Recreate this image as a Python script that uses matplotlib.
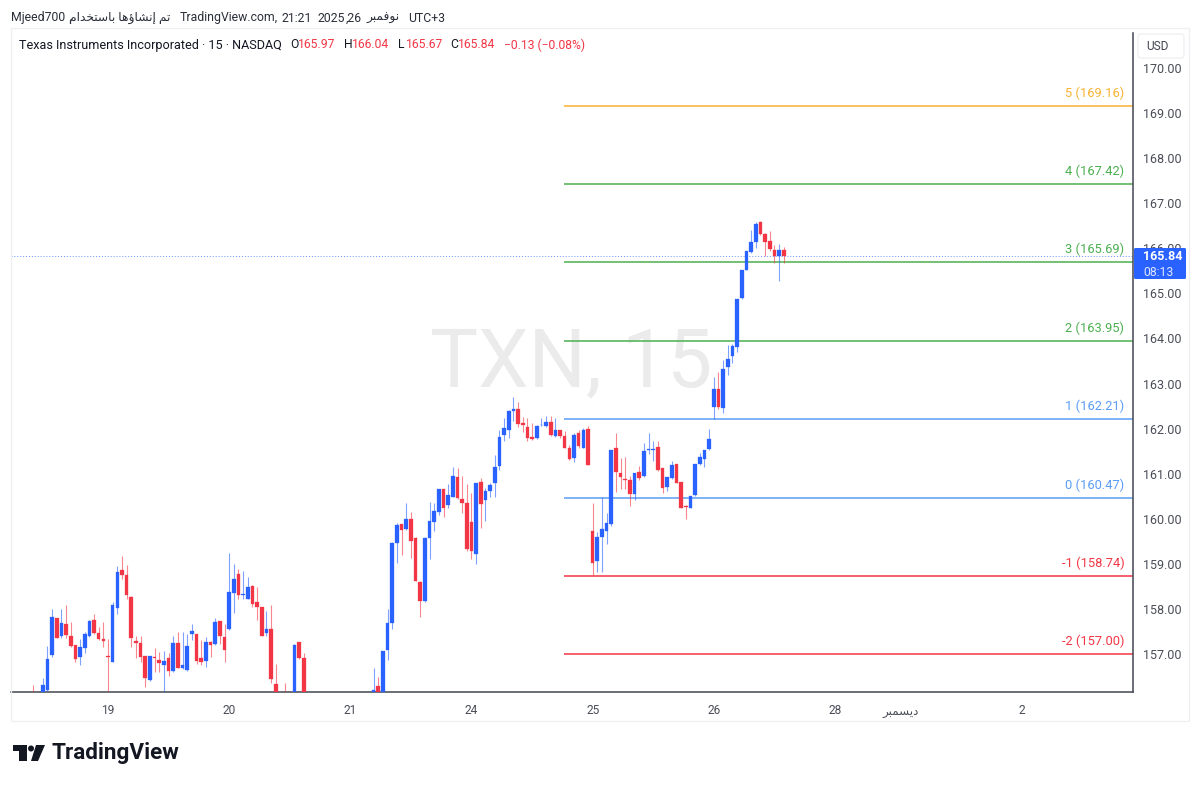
import unicodedata
import matplotlib
matplotlib.use("Agg")
import matplotlib.pyplot as plt
from matplotlib.patches import FancyBboxPatch, Rectangle, Polygon, Circle

plt.rcParams['font.family'] = ['Roboto', 'DejaVu Sans']

# bars counted from the first session of the 19th, hidden ones are under the axis
bar_index = [-16] + list(range(-14, 37)) + [38, 40, 41, 42] + list(range(57, 146))

opens = [
    156.10, 156.00, 156.20, 156.97, 157.80, 157.39, 157.66, 157.41, 157.20, 156.94, 157.14, 157.39, 157.76, 157.47,
    157.34, 156.95, 156.83, 158.03, 158.86, 158.75, 158.27, 157.28, 157.25, 156.95, 156.42, 156.94, 156.87, 156.76,
    156.91, 156.62, 157.25, 156.68, 156.65, 157.44, 157.45, 156.91, 156.85, 157.27, 157.22, 157.73, 157.38, 157.56,
    158.35, 158.77, 158.30, 158.22, 158.52, 158.15, 158.05, 157.47, 157.55, 156.33,
    156.10, 155.95, 157.26, 156.91,
    156.00, 156.28, 155.95, 157.09, 157.68, 159.46, 159.88, 159.77, 160.00, 159.57, 158.60, 158.17, 159.57, 159.94,
    160.14, 160.65, 160.30, 160.49, 160.92, 160.45, 160.35, 159.92, 159.23, 160.82, 160.41, 160.62, 160.80, 161.17,
    161.85, 161.98, 162.40, 162.44, 162.12, 162.04, 161.81, 161.79, 162.07, 162.06, 162.15, 161.84, 161.97, 161.84,
    161.58, 161.35, 161.90, 161.57, 161.99,
    159.74, 159.07, 159.60, 159.72, 159.89, 161.56, 161.02, 160.88, 160.86, 160.54, 161.03, 160.95, 161.53, 161.53,
    161.59, 161.12, 160.70, 160.90, 161.22, 160.81, 160.28, 160.25, 160.53, 161.22, 161.33, 161.55,
    162.47, 162.89, 162.45, 163.36, 163.62, 163.80, 164.89, 165.53, 165.91, 166.15, 166.58, 166.31, 166.16, 165.96,
    165.84, 165.97,
]
closes = [
    156.00, 156.31, 156.89, 157.83, 157.36, 157.69, 157.42, 157.17, 156.88, 157.15, 157.44, 157.74, 157.46, 157.33,
    157.30, 156.93, 158.09, 158.81, 158.75, 158.31, 157.35, 157.24, 156.94, 156.46, 156.95, 156.92, 156.81, 156.85,
    156.63, 157.25, 156.70, 156.75, 157.18, 157.51, 156.85, 156.82, 157.27, 157.20, 157.70, 157.40, 157.08, 158.38,
    158.66, 158.31, 158.33, 158.48, 158.11, 158.04, 157.41, 157.56, 156.45, 156.00,
    156.00, 157.20, 156.91, 155.95,
    156.20, 156.00, 157.07, 157.68, 159.46, 159.86, 159.75, 159.99, 159.51, 158.61, 158.17, 159.57, 159.95, 160.17,
    160.66, 160.25, 160.52, 160.94, 160.47, 160.36, 159.34, 159.28, 160.80, 160.33, 160.62, 160.75, 161.14, 161.82,
    162.01, 162.40, 162.43, 162.10, 162.07, 161.79, 161.76, 162.06, 162.09, 162.15, 161.85, 161.97, 161.84, 161.58,
    161.33, 161.85, 161.61, 161.98, 161.19,
    159.03, 159.60, 159.77, 159.91, 161.53, 161.03, 160.92, 160.86, 160.55, 161.02, 160.90, 161.50, 161.55, 161.55,
    161.08, 160.68, 160.92, 161.19, 160.80, 160.23, 160.27, 160.51, 161.21, 161.36, 161.53, 161.76,
    162.89, 162.47, 163.32, 163.54, 163.84, 164.87, 165.53, 165.93, 166.13, 166.55, 166.31, 166.14, 165.98, 165.84,
    165.96, 165.84,
]
highs = [
    156.31, 156.46, 157.18, 157.99, 157.80, 157.99, 158.09, 157.72, 157.20, 157.33, 157.50, 157.76, 157.89, 157.59,
    157.72, 157.33, 158.16, 158.95, 159.18, 158.98, 158.29, 157.40, 157.40, 156.96, 156.96, 157.14, 157.05, 157.07,
    157.02, 157.39, 157.50, 157.50, 157.44, 157.66, 157.45, 157.31, 157.37, 157.28, 157.79, 157.73, 157.67, 159.25,
    159.00, 158.88, 158.85, 158.72, 158.53, 158.48, 158.05, 157.96, 158.09, 156.79,
    156.35, 157.22, 157.27, 157.03,
    156.68, 156.48, 157.07, 157.99, 159.49, 159.91, 159.88, 160.36, 160.14, 159.60, 158.61, 159.60, 160.38, 160.34,
    160.66, 160.66, 160.77, 161.14, 161.12, 160.95, 160.77, 160.57, 160.80, 160.90, 160.68, 160.79, 161.41, 161.97,
    162.23, 162.41, 162.71, 162.58, 162.25, 162.23, 162.12, 162.08, 162.23, 162.28, 162.28, 162.23, 161.98, 161.95,
    161.64, 161.90, 161.98, 162.01, 162.06,
    160.36, 159.70, 160.49, 160.12, 161.53, 161.91, 161.34, 161.38, 160.95, 161.02, 161.17, 161.69, 161.90, 161.73,
    161.73, 161.12, 160.92, 161.28, 161.22, 160.81, 160.31, 160.51, 161.21, 161.47, 161.53, 161.99,
    163.14, 163.25, 163.52, 163.86, 163.87, 164.87, 165.53, 165.93, 166.41, 166.59, 166.61, 166.33, 166.39, 166.07,
    166.09, 166.04,
]
lows = [
    155.90, 155.90, 156.17, 156.94, 157.35, 157.35, 157.35, 157.15, 156.83, 156.75, 157.02, 157.37, 157.45, 157.32,
    157.16, 156.00, 156.82, 157.89, 158.66, 158.21, 157.16, 156.91, 156.83, 156.26, 156.41, 156.61, 156.61, 156.00,
    156.51, 156.61, 156.68, 156.66, 156.63, 157.31, 156.78, 156.76, 156.72, 156.93, 157.21, 157.22, 156.82, 157.54,
    157.90, 158.21, 158.21, 158.21, 158.05, 157.76, 157.39, 157.40, 156.35, 155.90,
    155.90, 155.90, 156.90, 155.90,
    155.90, 155.90, 155.90, 156.87, 157.55, 159.01, 159.20, 159.75, 159.14, 158.61, 157.83, 158.15, 159.10, 159.74,
    160.08, 160.03, 160.25, 160.48, 160.45, 160.12, 159.28, 159.10, 159.00, 159.79, 159.96, 160.49, 160.49, 161.08,
    161.73, 161.79, 162.18, 162.04, 161.93, 161.73, 161.75, 161.78, 162.06, 162.04, 161.84, 161.82, 161.79, 161.56,
    161.31, 161.27, 161.58, 161.56, 161.19,
    158.75, 158.83, 158.83, 159.44, 159.85, 160.60, 160.65, 160.65, 160.28, 160.42, 160.86, 160.93, 161.44, 161.29,
    161.07, 160.57, 160.62, 160.88, 160.79, 160.23, 159.99, 160.24, 160.51, 161.20, 161.16, 161.53,
    162.21, 162.43, 162.34, 163.19, 163.45, 163.71, 164.88, 165.52, 165.90, 166.00, 166.30, 165.84, 165.93, 165.67,
    165.28, 165.67,
]

last_price = 165.84
fib_levels = [169.16, 167.42, 165.69, 163.95, 162.21, 160.47, 158.74, 157.00]
fib_names = ["5", "4", "3", "2", "1", "0", "-1", "-2"]
fib_colors = ["#f9b233", "#4caf50", "#4caf50", "#4caf50", "#5b9cf6", "#5b9cf6", "#f23645", "#f23645"]
fib_start = 97.8

price_ticks = list(range(157, 171))
date_ticks = [0, 26, 52, 78, 104, 130, 156, 170, 196]
date_labels = ["19", "20", "21", "24", "25", "26", "28", "ديسمبر", "2"]

BLUE = "#2962ff"
RED = "#f23645"
W, H = 1200, 785


def shape_ar(text):
    # matplotlib does no arabic shaping, so pick the joined glyphs and reverse
    right_only = "اإؤدرو"
    is_ar = lambda ch: "\u0621" <= ch <= "\u064a"
    if not any(is_ar(ch) for ch in text):
        return text
    out = []
    for i, ch in enumerate(text):
        if not is_ar(ch):
            out.append(ch)
            continue
        before = i > 0 and is_ar(text[i-1]) and text[i-1] not in right_only
        after = i < len(text)-1 and is_ar(text[i+1]) and ch not in right_only
        form = {(True, True): "MEDIAL", (True, False): "FINAL",
                (False, True): "INITIAL", (False, False): "ISOLATED"}[(before, after)]
        out.append(unicodedata.lookup(f"{unicodedata.name(ch)} {form} FORM"))
    return "".join(out[::-1])


fig = plt.figure(figsize=(W/100, H/100), dpi=100, facecolor="white")
ax = fig.add_axes([11/W, 1-692/H, (1133-11)/W, (692-33)/H])
ax.set_xlim((11-108)/4.66, (1133-108)/4.66)
ax.set_ylim(170-(692-68)/45.08, 170-(33-68)/45.08)

# watermark
ax.text(0.499, 0.497, "TXN, 15", transform=ax.transAxes, ha="center", va="center",
        fontsize=58, color="#ebebec", zorder=0)

# fib lines
for level, name, color in zip(fib_levels, fib_names, fib_colors):
    ax.hlines(level, fib_start, ax.get_xlim()[1], color=color, lw=1.1, zorder=2)
    ax.text(218.1, level+0.13, f"{name} ({level:.2f})", color=color, fontsize=9.3,
            ha="right", va="bottom", zorder=2)

ax.hlines(last_price, ax.get_xlim()[0], ax.get_xlim()[1], color=BLUE, lw=0.7, ls=(0, (1, 2)), alpha=0.7, zorder=2)

# candles
colors = [BLUE if c >= o else RED for o, c in zip(opens, closes)]
ax.vlines(bar_index, lows, highs, colors=colors, lw=0.8, alpha=0.6, zorder=3)
ax.bar(bar_index, [abs(c-o) for o, c in zip(opens, closes)], bottom=[min(o, c) for o, c in zip(opens, closes)],
       width=0.78, color=colors, linewidth=0.2, edgecolor=colors, zorder=4)

for side in ["top", "left"]:
    ax.spines[side].set_visible(False)
for side in ["right", "bottom"]:
    ax.spines[side].set_color("#434651")
    ax.spines[side].set_linewidth(1.1)

ax.yaxis.tick_right()
ax.set_yticks(price_ticks)
ax.set_yticklabels([f"{p:.2f}" for p in price_ticks], fontsize=9, color="#4a4d57")
ax.set_xticks(date_ticks)
ax.set_xticklabels([shape_ar(t) for t in date_labels], fontsize=8.6, color="#4a4d57")
ax.tick_params(axis="y", length=0, pad=7)
ax.tick_params(axis="x", length=0, pad=9)
ax.patch.set_alpha(0)

# everything that is placed by pixel goes on a full figure overlay
ov = fig.add_axes([0, 0, 1, 1], zorder=5)
ov.set_xlim(0, W)
ov.set_ylim(H, 0)
ov.axis("off")

# faint panel frame
ov.add_patch(Rectangle((11, 28), 1178, 693, fill=False, ec="#eeeff2", lw=0.9))

# USD button and last price label, the button hides the top of 170.00
ov.add_patch(Rectangle((1135, 33), 52, 31, fc="white", ec="none"))
ov.add_patch(FancyBboxPatch((1138, 34), 46, 24, boxstyle="round,pad=0,rounding_size=3",
                            fc="white", ec="#eeeff2", lw=0.9))
ov.text(1157, 46, "USD", fontsize=8.6, color="#434651", ha="center", va="center")
ov.add_patch(FancyBboxPatch((1134, 248), 52, 31, boxstyle="round,pad=0,rounding_size=1.5", fc=BLUE, ec=BLUE, lw=0))
ov.text(1143, 257, "165.84", fontsize=9, color="white", ha="left", va="center", fontweight="bold")
ov.text(1143, 272, "08:13", fontsize=8.8, color="#dfe6ff", ha="left", va="center")

# top line
top_runs = [(11, "Mjeed700"), (69, shape_ar("تم إنشاؤها باستخدام")), (180, "TradingView.com,"), (281, "21:21"),
            (317, "2025"), (346, ",26"), (367, shape_ar("نوفمبر")), (408, "UTC+3")]
for x, s in top_runs:
    ov.text(x, 18, s, fontsize=8.8, color="#2a2e39", va="center")

# legend line
ov.text(19, 45, "Texas Instruments Incorporated · 15 · NASDAQ", fontsize=9.1, color="#131722", va="center")
legend_runs = [(290, "O", "#131722"), (298, "165.97", RED), (344, "H", "#131722"), (352, "166.04", RED),
               (398, "L", "#131722"), (406, "165.67", RED), (450, "C", "#131722"), (458, "165.84", RED),
               (504, "−0.13 (−0.08%)", RED)]
for x, s, color in legend_runs:
    ov.text(x, 45, s, fontsize=8.7, color=color, va="center")

# logo
ov.add_patch(Polygon([(13, 745), (27, 745), (27, 761), (19, 761), (19, 751), (13, 751)], fc="#131722", ec="none"))
ov.add_patch(Circle((31, 748.5), 3, fc="#131722", ec="none"))
ov.add_patch(Polygon([(36, 745), (45, 745), (38, 761), (31, 761)], fc="#131722", ec="none"))
ov.text(52, 753.5, "TradingView", fontsize=16.2, color="#131722", va="center", fontweight="bold")

fig.savefig("out.png", dpi=100)
